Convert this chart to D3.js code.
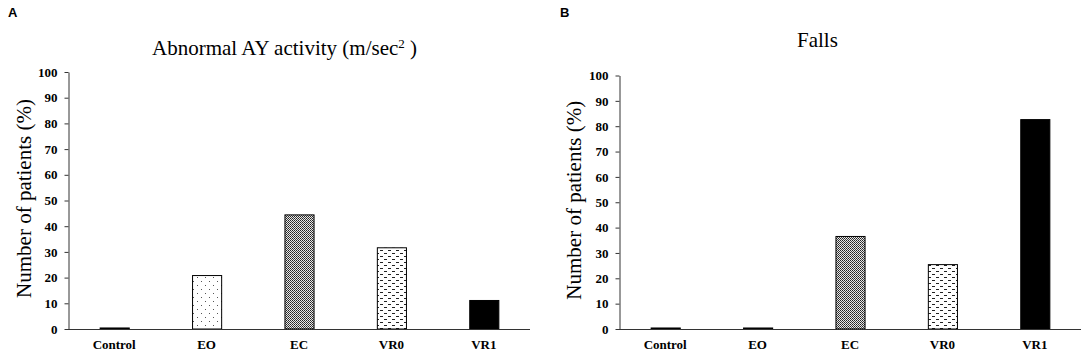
<!DOCTYPE html>
<html>
<head>
<meta charset="utf-8">
<script src="https://cdn.jsdelivr.net/npm/d3@7"></script>
<style>
  body { margin: 0; background: #fff; }
  svg { display: block; }
</style>
</head>
<body>
<div id="chart"></div>
<script>
//
// Two bar panels: abnormal AY activity and falls
//

var categories = ['Control', 'EO', 'EC', 'VR0', 'VR1'];
var abnormalValues = [0.4, 20.8, 44.4, 31.6, 11.1];
var fallsValues = [0.4, 0.4, 36.5, 25.4, 82.6];
var yTicks = [0, 10, 20, 30, 40, 50, 60, 70, 80, 90, 100];
var fillIds = ['solid', 'dots', 'checker', 'dashes', 'solid'];

var _width = 1084;
var _height = 356;
var _serif = "Liberation Serif, DejaVu Serif, serif";

var svg = d3.select("#chart")
    .append("svg")
    .attr("width", _width)
    .attr("height", _height);

// fill patterns
var defs = svg.append("defs");

var dots = defs.append("pattern")
    .attr("id", "dots")
    .attr("patternUnits", "userSpaceOnUse")
    .attr("width", 8).attr("height", 8);
dots.append("rect").attr("width", 8).attr("height", 8).attr("fill", "#fff");
dots.append("rect").attr("x", 1).attr("y", 1).attr("width", 1).attr("height", 1).attr("fill", "#555");
dots.append("rect").attr("x", 5).attr("y", 5).attr("width", 1).attr("height", 1).attr("fill", "#555");

var checker = defs.append("pattern")
    .attr("id", "checker")
    .attr("patternUnits", "userSpaceOnUse")
    .attr("width", 2).attr("height", 2);
checker.append("rect").attr("width", 2).attr("height", 2).attr("fill", "#e8e8e8");
checker.append("rect").attr("x", 0).attr("y", 0).attr("width", 1).attr("height", 1).attr("fill", "#222");
checker.append("rect").attr("x", 1).attr("y", 1).attr("width", 1).attr("height", 1).attr("fill", "#444");

var dashes = defs.append("pattern")
    .attr("id", "dashes")
    .attr("patternUnits", "userSpaceOnUse")
    .attr("width", 8).attr("height", 6);
dashes.append("rect").attr("width", 8).attr("height", 6).attr("fill", "#fff");
dashes.append("rect").attr("x", 0).attr("y", 1).attr("width", 3).attr("height", 1).attr("fill", "#222");
dashes.append("rect").attr("x", 4).attr("y", 4).attr("width", 3).attr("height", 1).attr("fill", "#222");

function barFill(id) {
    if (id == 'solid')
        return "#000";
    return "url(#" + id + ")";
}

function drawPanel(opts) {
    var x = d3.scaleBand()
        .domain(categories)
        .range([opts.left, opts.right])
        .paddingInner(0.685)
        .paddingOuter(0.3425);

    var y = d3.scaleLinear()
        .domain([0, 100])
        .range([opts.bottom, opts.top]);

    // bars
    svg.append("g")
        .selectAll("rect")
        .data(opts.values)
        .enter()
        .append("rect")
        .attr("x", function (d, i) { return x(categories[i]) + 0.5; })
        .attr("y", function (d) { return y(d); })
        .attr("width", x.bandwidth())
        .attr("height", function (d) { return y(0) - y(d); })
        .attr("fill", function (d, i) { return barFill(fillIds[i]); })
        .attr("stroke", "#000")
        .attr("stroke-width", 1);

    // y axis
    var yAxis = d3.axisLeft(y)
        .tickValues(yTicks)
        .tickSize(4)
        .tickSizeOuter(0)
        .tickPadding(7);
    var gy = svg.append("g")
        .attr("transform", "translate(" + (opts.left + 0.5) + ",0)")
        .call(yAxis)
        .attr("font-family", _serif)
        .attr("font-weight", "bold")
        .attr("font-size", 13);
    gy.select(".domain").attr("stroke", "#333");
    gy.selectAll(".tick line").attr("stroke", "#333");
    gy.selectAll(".tick text").attr("fill", "#000");

    // x axis line
    svg.append("line")
        .attr("x1", opts.left).attr("x2", opts.right)
        .attr("y1", y(0) + 0.5).attr("y2", y(0) + 0.5)
        .attr("stroke", "#333");

    // category labels
    svg.append("g")
        .attr("font-family", _serif)
        .attr("font-weight", "bold")
        .attr("font-size", 13)
        .selectAll("text")
        .data(categories)
        .enter()
        .append("text")
        .attr("x", function (d) { return x(d) + x.bandwidth() / 2; })
        .attr("y", 349)
        .attr("text-anchor", "middle")
        .text(function (d) { return d; });

    // y label
    svg.append("text")
        .attr("transform", "translate(" + opts.yLabelX + "," + ((opts.top + opts.bottom) / 2 - 2) + ") rotate(-90)")
        .attr("text-anchor", "middle")
        .attr("font-family", _serif)
        .attr("font-size", 21)
        .text("Number of patients (%)");

    // panel letter
    svg.append("text")
        .attr("x", opts.letterX)
        .attr("y", 17)
        .attr("font-family", "Liberation Sans, Arial, sans-serif")
        .attr("font-weight", "bold")
        .attr("font-size", 13)
        .text(opts.letter);
}

drawPanel({ left: 68, right: 530, top: 72, bottom: 329, values: abnormalValues, yLabelX: 31, letterX: 8, letter: 'A' });
drawPanel({ left: 619, right: 1081, top: 75.5, bottom: 329, values: fallsValues, yLabelX: 581, letterX: 560, letter: 'B' });

// titles
var titleA = svg.append("text")
    .attr("x", 152)
    .attr("y", 55)
    .attr("font-family", _serif)
    .attr("font-size", 21);
titleA.append("tspan").text("Abnormal AY activity (m/sec");
titleA.append("tspan").attr("dy", -7).attr("font-size", 13).text("2");
titleA.append("tspan").attr("dy", 7).text(" )");

svg.append("text")
    .attr("x", 797)
    .attr("y", 47)
    .attr("font-family", _serif)
    .attr("font-size", 21)
    .text("Falls");
</script>
</body>
</html>
